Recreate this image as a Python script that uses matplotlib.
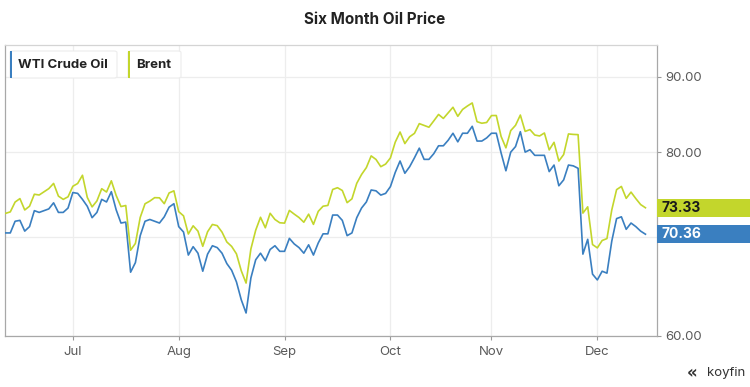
import numpy as np
import pandas as pd
import matplotlib
matplotlib.use("Agg")
import matplotlib.pyplot as plt
from matplotlib.patches import Rectangle, FancyBboxPatch
from matplotlib.ticker import FixedLocator, NullLocator, NullFormatter

# daily closes, one value per weekday (holidays carry the previous value)
dates = pd.bdate_range("2021-06-11", "2021-12-15")

wti = [70.5, 70.5, 71.8, 71.9, 70.7, 71.2, 73.0, 72.8, 73.0, 73.2,
       73.9, 72.8, 72.8, 73.3, 75.1, 75.0, 74.3, 73.5, 72.2, 72.8,
       74.3, 74.0, 75.2, 73.1, 71.6, 71.7, 66.3, 67.3, 70.2, 71.8,
       72.0, 71.8, 71.6, 72.3, 73.4, 73.8, 71.2, 70.6, 68.1, 69.0,
       68.3, 66.4, 68.2, 69.1, 68.9, 68.3, 67.2, 66.5, 65.3, 63.5,
       62.2, 65.7, 67.6, 68.3, 67.5, 68.7, 69.1, 68.5, 68.5, 69.9,
       69.3, 68.9, 68.3, 69.2, 68.1, 69.4, 70.4, 70.4, 72.5, 72.5,
       71.9, 70.2, 70.5, 72.2, 73.3, 74.0, 75.4, 75.3, 74.8, 75.0,
       75.8, 77.5, 78.9, 77.4, 78.2, 79.3, 80.5, 79.1, 79.1, 79.8,
       80.8, 80.8, 81.5, 82.4, 81.3, 82.4, 82.4, 83.3, 81.4, 81.4,
       81.8, 82.4, 82.4, 79.9, 77.7, 80.0, 80.7, 82.6, 80.0, 80.3,
       79.6, 79.6, 79.6, 77.6, 78.4, 75.9, 76.6, 78.4, 78.3, 78.0,
       68.2, 69.8, 66.1, 65.5, 66.4, 66.2, 69.6, 72.1, 72.3, 70.9,
       71.6, 71.2, 70.7, 70.36]

brent = [72.69, 72.86, 73.99, 74.39, 73.08, 73.51, 74.90, 74.81, 75.19, 75.56,
         76.18, 74.68, 74.30, 74.60, 75.84, 76.17, 77.16, 74.53, 73.43, 74.12,
         75.55, 75.16, 76.49, 74.76, 73.47, 73.59, 68.62, 69.35, 72.23, 73.79,
         74.10, 74.50, 74.48, 73.80, 75.05, 75.30, 72.89, 72.41, 70.38, 71.29,
         70.70, 69.04, 70.63, 71.44, 71.31, 70.59, 69.51, 69.03, 68.23, 66.45,
         65.18, 68.75, 70.80, 72.25, 71.07, 72.70, 72.00, 71.63, 71.59, 73.03,
         72.61, 72.22, 71.69, 72.60, 71.45, 72.92, 73.51, 73.60, 75.46, 75.67,
         75.34, 73.92, 74.36, 76.19, 77.25, 78.09, 79.53, 79.09, 78.20, 78.52,
         79.28, 81.26, 82.56, 81.08, 81.95, 82.39, 83.65, 83.42, 83.18, 84.00,
         84.86, 84.33, 85.08, 85.82, 84.61, 85.53, 85.99, 86.40, 83.90, 83.70,
         83.80, 84.71, 84.72, 81.99, 80.54, 82.74, 83.43, 84.78, 82.64, 82.87,
         82.17, 82.05, 82.43, 80.28, 81.24, 78.89, 79.70, 82.31, 82.25, 82.22,
         72.72, 73.44, 69.23, 68.87, 69.67, 69.88, 73.08, 75.44, 75.82, 74.42,
         75.15, 74.39, 73.70, 73.33]

series_names = ["WTI Crude Oil", "Brent"]
y_ticks = [60, 70, 80, 90]
y_labels = ["60.00", "", "80.00", "90.00"]

BLUE = "#3a7fc0"
GREEN = "#c3d62c"
W, H = 750, 387

plt.rcParams["font.family"] = ["Inter", "DejaVu Sans"]

fig = plt.figure(figsize=(W / 100, H / 100), dpi=100)


def fx(px):
    return px / W


def fy(py):
    # pixel measured from the top
    return 1 - py / H


ax = fig.add_axes([fx(5), fy(336), fx(652), 291 / H])
x = np.arange(len(dates))
ax.plot(x, wti, color=BLUE, lw=1.2, zorder=3)
ax.plot(x, brent, color=GREEN, lw=1.2, zorder=3)

ax.set_yscale("log")
ax.set_ylim(60, 94.6)
ax.set_xlim(-0.1, 135.4)
ax.yaxis.set_major_locator(FixedLocator(y_ticks))
ax.yaxis.set_minor_locator(NullLocator())
ax.yaxis.set_minor_formatter(NullFormatter())
ax.set_yticklabels(y_labels)
ax.yaxis.tick_right()

month_pos = [i for i in range(1, len(dates)) if dates[i].month != dates[i - 1].month]
ax.set_xticks(month_pos)
ax.set_xticklabels([dates[i].strftime("%b") for i in month_pos])

ax.grid(True, color="#ededed", lw=0.9, zorder=0)
ax.tick_params(axis="both", colors="#9a9a9a", labelcolor="#5a5a5a",
               labelsize=9.5, length=3, width=0.8)
ax.tick_params(axis="x", pad=4)
ax.tick_params(axis="y", pad=3)
for side in ["left", "bottom", "right"]:
    ax.spines[side].set_color("#a8a8a8")
    ax.spines[side].set_linewidth(0.9)
ax.spines["top"].set_color("#d4d4d4")
ax.spines["top"].set_linewidth(0.9)

# title
fig.text(0.5, fy(19), "Six Month Oil Price", ha="center", va="center",
         fontsize=11, fontweight="bold", color="#222222")

# legend chips
chips = [(10, 117, BLUE, series_names[0]), (128, 181, GREEN, series_names[1])]
for left, right, col, name in chips:
    box = FancyBboxPatch((fx(left), fy(78)), fx(right - left), 27 / H,
                         boxstyle="round,pad=0,rounding_size=0.004",
                         transform=fig.transFigure, facecolor="white",
                         edgecolor="#ececec", lw=0.8, zorder=5)
    fig.patches.append(box)
    fig.patches.append(Rectangle((fx(left), fy(78)), fx(2.2), 27 / H,
                                 transform=fig.transFigure, facecolor=col,
                                 edgecolor="none", zorder=6))
    fig.text(fx(left + 8), fy(65), name, ha="left", va="center",
             fontsize=9.5, fontweight="bold", color="#222222", zorder=7)

# last-value tags on the right axis
inv = fig.transFigure.inverted()
for vals, col, tcol in [(brent, GREEN, "#1a1a1a"), (wti, BLUE, "white")]:
    last = vals[-1]
    yfig = inv.transform(ax.transData.transform((0, last)))[1]
    fig.patches.append(Rectangle((fx(657), yfig - 9 / H), 1 - fx(657), 18 / H,
                                 transform=fig.transFigure, facecolor=col,
                                 edgecolor="none", zorder=6))
    fig.text(fx(662), yfig, f"{last:.2f}", ha="left", va="center",
             fontsize=10, fontweight="bold", color=tcol, zorder=7)

# watermark
fig.text(fx(745), fy(373), "koyfin", ha="right", va="center",
         fontsize=9.5, color="#333333")
fig.text(fx(697), fy(373), "\u00ab", ha="right", va="center",
         fontsize=12, fontweight="bold", color="#333333", family="DejaVu Sans")

fig.savefig("out.png", dpi=100)
